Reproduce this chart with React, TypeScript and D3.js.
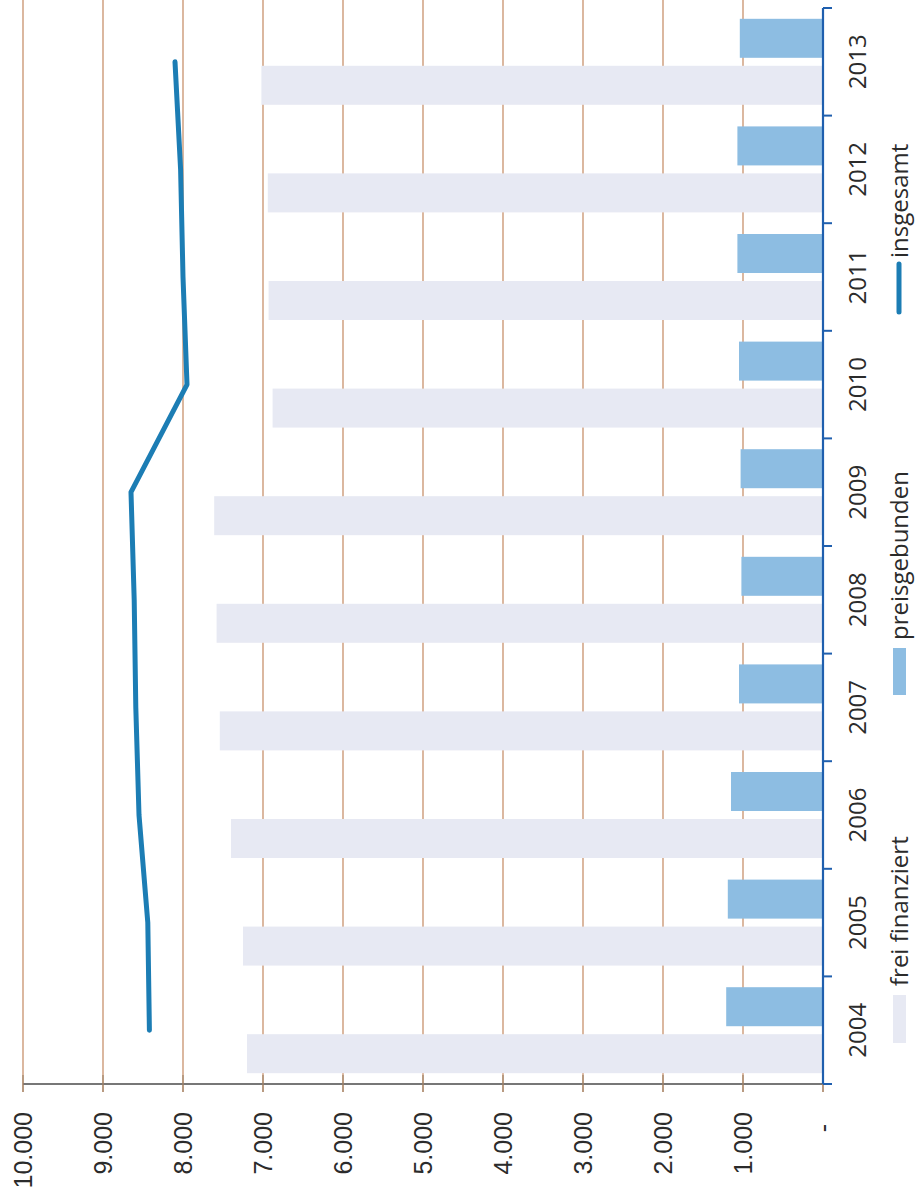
import { useEffect, useRef } from "react";
import * as d3 from "d3";

const years = ["2004", "2005", "2006", "2007", "2008", "2009", "2010", "2011", "2012", "2013"];
const freiFinanziert = [7200, 7250, 7400, 7540, 7580, 7610, 6880, 6930, 6940, 7020];
const preisgebunden = [1210, 1190, 1150, 1050, 1020, 1030, 1050, 1070, 1070, 1040];
const insgesamt = [8420, 8440, 8550, 8590, 8610, 8650, 7950, 8000, 8030, 8100];
const valueTicks = [0, 1000, 2000, 3000, 4000, 5000, 6000, 7000, 8000, 9000, 10000];
const tickLabels = ["-", "1.000", "2.000", "3.000", "4.000", "5.000", "6.000", "7.000", "8.000", "9.000", "10.000"];

const W = 916;
const H = 1196;

export default function App() {
  const svgRef = useRef<SVGSVGElement>(null);

  useEffect(() => {
    if (!svgRef.current) return;
    const svg = d3.select(svgRef.current);
    svg.selectAll("*").remove();

    const axisX = 823;
    const baseY = 1084;

    // value axis runs right to left (chart is turned on its side)
    const x = d3.scaleLinear().domain([0, 10000]).range([axisX, 23]);
    const y = d3.scaleBand<string>().domain(years).range([baseY, 8]);
    const sub = d3
      .scaleBand<string>()
      .domain(["preis", "frei"])
      .range([0, y.bandwidth()])
      .paddingInner(0.17)
      .paddingOuter(0.23);

    const axisFont = "'Liberation Sans', Arial, sans-serif";
    const legendFont = "'Open Sans', sans-serif";
    const textColor = "#2b2b2b";

    svg.append("rect").attr("width", W).attr("height", H).attr("fill", "#ffffff");

    // gridlines
    svg
      .append("g")
      .selectAll("line")
      .data(valueTicks)
      .join("line")
      .attr("x1", (d) => x(d))
      .attr("x2", (d) => x(d))
      .attr("y1", (d) => (d === 0 ? baseY : 0))
      .attr("y2", baseY + 8)
      .attr("stroke", "#c8916c")
      .attr("stroke-width", 1.3);

    // bars
    const rows = years.map((yr, i) => ({
      yr,
      frei: freiFinanziert[i],
      preis: preisgebunden[i],
    }));

    svg
      .append("g")
      .selectAll("rect")
      .data(rows)
      .join("rect")
      .attr("x", (d) => x(d.frei))
      .attr("y", (d) => (y(d.yr) ?? 0) + (sub("frei") ?? 0))
      .attr("width", (d) => x(0) - x(d.frei))
      .attr("height", sub.bandwidth())
      .attr("fill", "#e7e9f3");

    svg
      .append("g")
      .selectAll("rect")
      .data(rows)
      .join("rect")
      .attr("x", (d) => x(d.preis))
      .attr("y", (d) => (y(d.yr) ?? 0) + (sub("preis") ?? 0))
      .attr("width", (d) => x(0) - x(d.preis))
      .attr("height", sub.bandwidth())
      .attr("fill", "#8dbde2");

    // value axis line along the bottom
    svg
      .append("line")
      .attr("x1", x(10000))
      .attr("x2", x(0))
      .attr("y1", baseY)
      .attr("y2", baseY)
      .attr("stroke", "#4a4a4a")
      .attr("stroke-width", 1.6);

    svg
      .append("g")
      .selectAll("line")
      .data(valueTicks)
      .join("line")
      .attr("x1", (d) => x(d))
      .attr("x2", (d) => x(d))
      .attr("y1", baseY - 9)
      .attr("y2", baseY + 8)
      .attr("stroke", "#a88a70")
      .attr("stroke-width", 1.3);

    // category axis on the right
    svg
      .append("line")
      .attr("x1", axisX)
      .attr("x2", axisX)
      .attr("y1", 8)
      .attr("y2", baseY)
      .attr("stroke", "#1f5fae")
      .attr("stroke-width", 2.2);

    const catTicks = years.map((yr) => (y(yr) ?? 0)).concat([baseY]);
    svg
      .append("g")
      .selectAll("line")
      .data(catTicks)
      .join("line")
      .attr("x1", axisX)
      .attr("x2", axisX + 9)
      .attr("y1", (d) => d)
      .attr("y2", (d) => d)
      .attr("stroke", "#1f5fae")
      .attr("stroke-width", 2);

    // total line
    const line = d3
      .line<number>()
      .x((d) => x(d))
      .y((_, i) => (y(years[i]) ?? 0) + y.bandwidth() / 2);

    svg
      .append("path")
      .datum(insgesamt)
      .attr("d", line)
      .attr("fill", "none")
      .attr("stroke", "#1c7db4")
      .attr("stroke-width", 5)
      .attr("stroke-linecap", "round")
      .attr("stroke-linejoin", "round");

    // value tick labels (rotated)
    svg
      .append("g")
      .selectAll("text")
      .data(valueTicks)
      .join("text")
      .attr("transform", (d) => `translate(${x(d)},${d === 0 ? 1124 : 1112}) rotate(-90)`)
      .attr("text-anchor", "end")
      .attr("dominant-baseline", "central")
      .attr("font-family", axisFont)
      .attr("font-size", 25)
      .attr("fill", textColor)
      .text((_, i) => tickLabels[i]);

    // year labels
    svg
      .append("g")
      .selectAll("text")
      .data(years)
      .join("text")
      .attr("transform", (d) => `translate(856,${(y(d) ?? 0) + y.bandwidth() / 2}) rotate(-90)`)
      .attr("text-anchor", "middle")
      .attr("dominant-baseline", "central")
      .attr("font-family", legendFont)
      .attr("font-size", 24)
      .attr("fill", textColor)
      .text((d) => d);

    // legend
    const legend = svg.append("g");
    legend
      .append("rect")
      .attr("x", 893)
      .attr("y", 995)
      .attr("width", 13)
      .attr("height", 48)
      .attr("fill", "#e7e9f3");
    legend
      .append("rect")
      .attr("x", 893)
      .attr("y", 648)
      .attr("width", 13)
      .attr("height", 47)
      .attr("fill", "#8dbde2");
    legend
      .append("line")
      .attr("x1", 899)
      .attr("x2", 899)
      .attr("y1", 264)
      .attr("y2", 312)
      .attr("stroke", "#1c7db4")
      .attr("stroke-width", 5)
      .attr("stroke-linecap", "round");

    const legendItems = [
      { label: "frei finanziert", at: 986 },
      { label: "preisgebunden", at: 640 },
      { label: "insgesamt", at: 258 },
    ];
    legend
      .selectAll("text")
      .data(legendItems)
      .join("text")
      .attr("transform", (d) => `translate(908,${d.at}) rotate(-90)`)
      .attr("text-anchor", "start")
      .attr("font-family", legendFont)
      .attr("font-size", 24)
      .attr("fill", textColor)
      .text((d) => d.label);
  }, []);

  return (
    <svg
      ref={svgRef}
      width={W}
      height={H}
      style={{ position: "absolute", left: 0, top: 0 }}
    />
  );
}
